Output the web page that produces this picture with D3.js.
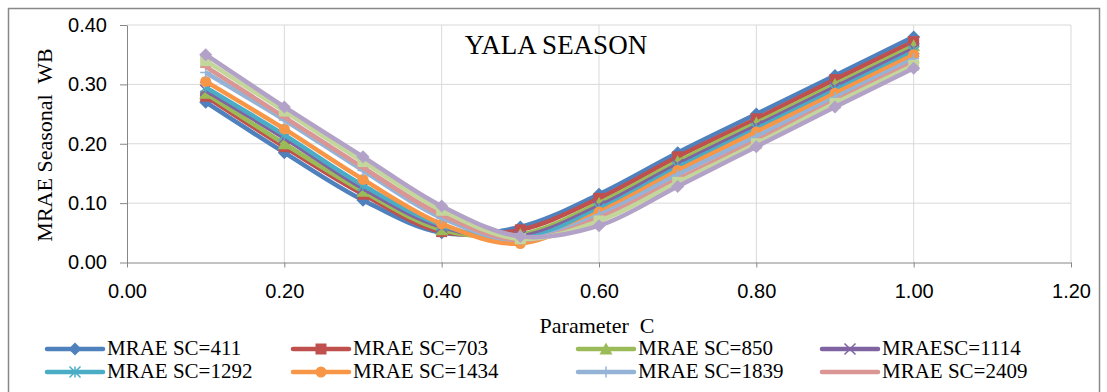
<!DOCTYPE html>
<html><head><meta charset="utf-8">
<script src="https://cdn.jsdelivr.net/npm/d3@7"></script>
<style>body{margin:0;background:#fff}.pre{position:absolute;left:20px;top:20px;visibility:hidden;font-size:12px}</style>
</head><body>
<div class="pre" style="font-family:'Liberation Serif'">MRAE SC=0123456789 YALA SEASON Parameter C Seasonal WB</div>
<div class="pre" style="font-family:'Liberation Sans'">0.123456789</div>
<svg id="c" width="1107" height="392" style="position:absolute;left:0;top:0"></svg>
<script>
const paramC = [0.1,0.2,0.3,0.4,0.5,0.6,0.7,0.8,0.9,1.0];
const seriesNames = ["MRAE SC=411","MRAE SC=703","MRAE SC=850","MRAESC=1114","MRAE SC=1292","MRAE SC=1434","MRAE SC=1839","MRAE SC=2409","MRAE SC=s9","MRAE SC=s10"];
const s411  = [0.270,0.185,0.105,0.050,0.060,0.115,0.185,0.250,0.315,0.380];
const s703  = [0.280,0.195,0.115,0.052,0.055,0.108,0.178,0.242,0.308,0.372];
const s850  = [0.285,0.200,0.120,0.055,0.047,0.100,0.170,0.235,0.300,0.365];
const s1114 = [0.290,0.210,0.125,0.060,0.044,0.095,0.165,0.230,0.295,0.360];
const s1292 = [0.295,0.215,0.130,0.063,0.040,0.090,0.160,0.225,0.290,0.355];
const s1434 = [0.305,0.225,0.140,0.065,0.032,0.085,0.155,0.220,0.285,0.350];
const s1839 = [0.320,0.240,0.155,0.075,0.038,0.080,0.148,0.212,0.278,0.343];
const s2409 = [0.330,0.245,0.160,0.080,0.038,0.075,0.140,0.205,0.272,0.337];
const s9    = [0.340,0.255,0.170,0.088,0.040,0.070,0.135,0.200,0.268,0.332];
const s10   = [0.350,0.262,0.178,0.095,0.044,0.062,0.128,0.195,0.262,0.327];
const allSeries = [s411,s703,s850,s1114,s1292,s1434,s1839,s2409,s9,s10];
const colors = ["#4F81BD","#C0504D","#9BBB59","#8064A2","#4BACC6","#F79646","#95B3D7","#D99694","#C3D69B","#B3A2C7"];
const markers = ["diamond","square","triangle","x","star","circle","plus","dash","square","diamond"];
const xTicks = [0,0.2,0.4,0.6,0.8,1.0,1.2];
const yTicks = [0,0.1,0.2,0.3,0.4];
const legendCount = 8;
const SERIF = "Liberation Serif";
const SANS = "Liberation Sans";

const svg = d3.select("#c");
svg.append("rect").attr("x",8.5).attr("y",8.5).attr("width",1091).attr("height",392).attr("fill","#fff").attr("stroke","#888").attr("stroke-width",1.5);

const x = d3.scaleLinear().domain([0,1.2]).range([127,1071]);
const y = d3.scaleLinear().domain([0,0.4]).range([262.5,25]);

svg.append("g").selectAll("line").data(xTicks.slice(1)).join("line")
  .attr("x1",d=>x(d)).attr("x2",d=>x(d)).attr("y1",y(0)).attr("y2",y(0.4)).attr("stroke","#d9d9d9").attr("stroke-width",1);
svg.append("g").selectAll("line").data(yTicks.slice(1)).join("line")
  .attr("x1",x(0)).attr("x2",x(1.2)).attr("y1",d=>y(d)).attr("y2",d=>y(d)).attr("stroke","#d9d9d9").attr("stroke-width",1);

const xAxis = svg.append("g").attr("transform",`translate(0,${y(0)})`)
  .call(d3.axisBottom(x).tickValues(xTicks).tickFormat(d3.format(".2f")).tickSizeOuter(0).tickSizeInner(5).tickPadding(16));
const yAxis = svg.append("g").attr("transform",`translate(${x(0)},0)`)
  .call(d3.axisLeft(y).tickValues(yTicks).tickFormat(d3.format(".2f")).tickSizeOuter(0).tickSizeInner(7).tickPadding(13));
[xAxis,yAxis].forEach(a=>{
  a.attr("font-family",SANS).attr("font-size",20);
  a.selectAll("path,line").attr("stroke","#868686").attr("stroke-width",1);
  a.selectAll("text").attr("fill","#000").style("font-family",SANS).style("font-size","20px");
});

const line = d3.line().x((d,i)=>x(paramC[i])).y(d=>y(d)).curve(d3.curveCatmullRom.alpha(0.5));

function drawMarker(g, type, cx, cy, color, s) {
  const h = s/2;
  if (type==="diamond") g.append("path").attr("d",`M${cx},${cy-h-1}L${cx+h+1},${cy}L${cx},${cy+h+1}L${cx-h-1},${cy}Z`).attr("fill",color);
  else if (type==="square") g.append("rect").attr("x",cx-h).attr("y",cy-h).attr("width",s).attr("height",s).attr("fill",color);
  else if (type==="triangle") g.append("path").attr("d",`M${cx},${cy-h-1}L${cx+h+1},${cy+h}L${cx-h-1},${cy+h}Z`).attr("fill",color);
  else if (type==="circle") g.append("circle").attr("cx",cx).attr("cy",cy).attr("r",h).attr("fill",color);
  else if (type==="x") g.append("path").attr("d",`M${cx-h},${cy-h}L${cx+h},${cy+h}M${cx-h},${cy+h}L${cx+h},${cy-h}`).attr("stroke",color).attr("stroke-width",1.5);
  else if (type==="star") g.append("path").attr("d",`M${cx-h},${cy-h}L${cx+h},${cy+h}M${cx-h},${cy+h}L${cx+h},${cy-h}M${cx},${cy-h}L${cx},${cy+h}`).attr("stroke",color).attr("stroke-width",1.5);
  else if (type==="plus") g.append("path").attr("d",`M${cx-h},${cy}L${cx+h},${cy}M${cx},${cy-h}L${cx},${cy+h}`).attr("stroke",color).attr("stroke-width",1.5);
  else if (type==="dash") g.append("path").attr("d",`M${cx-h},${cy}L${cx+h},${cy}`).attr("stroke",color).attr("stroke-width",3);
}

allSeries.forEach((vals,k)=>{
  const g = svg.append("g");
  g.append("path").datum(vals).attr("d",line).attr("fill","none").attr("stroke",colors[k]).attr("stroke-width",4.5).attr("stroke-linejoin","round");
  vals.forEach((v,i)=>drawMarker(g, markers[k], x(paramC[i]), y(v), colors[k], 11));
});

function txt(sel,size){ return sel.attr("fill","#000").style("font-family",SERIF).style("font-size",size+"px"); }
txt(svg.append("text").attr("x",556).attr("y",54).attr("text-anchor","middle").text("YALA SEASON"),27);
txt(svg.append("text").attr("transform",`translate(52,145) rotate(-90)`).attr("text-anchor","middle").style("white-space","pre").text("MRAE Seasonal  WB"),22);
txt(svg.append("text").attr("x",597).attr("y",333).attr("text-anchor","middle").style("white-space","pre").text("Parameter  C"),22);

const colX = [47,293,578,822];
const rowBase = [355,378];
for (let k=0;k<legendCount;k++){
  const cx = colX[k%4], by = rowBase[Math.floor(k/4)], cy = by-6;
  const g = svg.append("g");
  g.append("line").attr("x1",cx).attr("x2",cx+56).attr("y1",cy).attr("y2",cy).attr("stroke",colors[k]).attr("stroke-width",4.5).attr("stroke-linecap","round");
  drawMarker(g, markers[k], cx+28, cy, colors[k], 11);
  txt(g.append("text").attr("x",cx+60).attr("y",by).text(seriesNames[k]),21);
}
</script></body></html>
